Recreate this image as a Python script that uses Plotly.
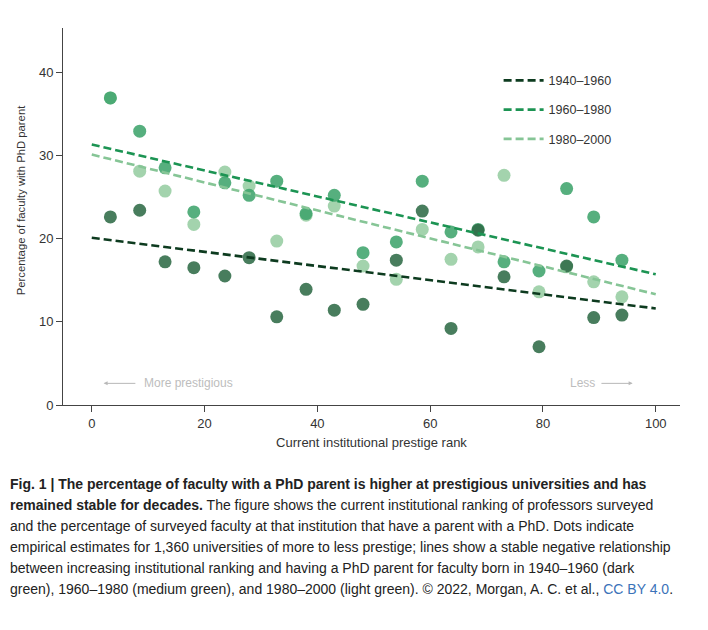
import plotly.graph_objects as go

# binned prestige ranks (x) and share of faculty with a PhD parent (%)
rank = [3.3, 8.5, 13.0, 18.1, 23.6, 27.9, 32.8, 38.0, 43.0, 48.1,
        54.0, 58.6, 63.7, 68.5, 73.1, 79.3, 84.2, 89.0, 94.0]
pct_1940 = [22.6, 23.4, 17.2, 16.5, 15.5, 17.7, 10.6, 13.9, 11.4, 12.1,
            17.4, 23.3, 9.2, 21.0, 15.4, 7.0, 16.7, 10.5, 10.8]
pct_1960 = [36.9, 32.9, 28.5, 23.2, 26.7, 25.2, 26.9, 23.0, 25.2, 18.3,
            19.6, 26.9, 20.8, 21.1, 17.2, 16.1, 26.0, 22.6, 17.4]
pct_2000 = [36.9, 28.1, 25.7, 21.7, 28.0, 26.3, 19.7, 22.8, 23.9, 16.7,
            15.1, 21.1, 17.5, 19.0, 27.6, 13.6, 16.6, 14.8, 13.0]

# fitted trend lines: value at rank 0 and at rank 100
fit_x = [0, 100]
fit_1940 = [20.1, 11.6]
fit_1960 = [31.3, 15.7]
fit_2000 = [30.1, 13.3]

cohorts = ["1940–1960", "1960–1980", "1980–2000"]
dot_colors = ["#2f6b47", "#3fa46c", "#96cda2"]
line_colors = ["#0d3b1f", "#1c9453", "#86c596"]

caption_lines = [
    "<b>Fig. 1 | The percentage of faculty with a PhD parent is higher at prestigious universities and has</b>",
    "<b>remained stable for decades.</b> The figure shows the current institutional ranking of professors surveyed",
    "and the percentage of surveyed faculty at that institution that have a parent with a PhD. Dots indicate",
    "empirical estimates for 1,360 universities of more to less prestige; lines show a stable negative relationship",
    "between increasing institutional ranking and having a PhD parent for faculty born in 1940–1960 (dark",
    "green), 1960–1980 (medium green), and 1980–2000 (light green). © 2022, Morgan, A. C. et al., "
    "<span style='color:#3b73b9'>CC BY 4.0</span>.",
]

fig = go.Figure()

# dots first (light on the bottom so overlaps look like the original)
for vals, col in zip([pct_2000, pct_1960, pct_1940], dot_colors[::-1]):
    fig.add_trace(go.Scatter(
        x=rank, y=vals, mode="markers",
        marker=dict(size=13, color=col, opacity=0.88, line=dict(width=0)),
        showlegend=False, hoverinfo="skip",
    ))

for name, vals, col in zip(cohorts, [fit_1940, fit_1960, fit_2000], line_colors):
    fig.add_trace(go.Scatter(
        x=fit_x, y=vals, mode="lines", name=name, legendgroup=name,
        line=dict(color=col, width=2.6, dash="8px,4px"),
    ))

fig.add_annotation(
    x=2.1, y=2.6, ax=8.0, ay=2.6, xref="x", yref="y", axref="x", ayref="y",
    text="", showarrow=True, arrowhead=2, arrowsize=0.8, arrowwidth=1,
    arrowcolor="#b8b8b8",
)
fig.add_annotation(
    x=8.9, y=2.6, xref="x", yref="y", text="More prestigious",
    showarrow=False, xanchor="left", font=dict(size=12, color="#bdbdbd"),
)
fig.add_annotation(
    x=95.9, y=2.6, ax=90.1, ay=2.6, xref="x", yref="y", axref="x", ayref="y",
    text="", showarrow=True, arrowhead=2, arrowsize=0.8, arrowwidth=1,
    arrowcolor="#b8b8b8",
)
fig.add_annotation(
    x=89.5, y=2.6, xref="x", yref="y", text="Less",
    showarrow=False, xanchor="right", font=dict(size=12, color="#bdbdbd"),
)
# y axis title, sitting a little above the axis centre as in the original
fig.add_annotation(
    x=-0.068, y=24.6, xref="paper", yref="y", text="Percentage of faculty with PhD parent",
    textangle=-90, showarrow=False, xanchor="center", yanchor="middle",
    font=dict(size=11.3, color="#333333"),
)
# caption under the chart, one annotation per line to get the wider leading
for i, line in enumerate(caption_lines):
    fig.add_annotation(
        x=0, y=-0.21 - i * 21 / 377, xref="paper", yref="paper", text=line,
        showarrow=False, xanchor="left", yanchor="middle", align="left", xshift=-55,
        font=dict(family="Liberation Sans, Arial, sans-serif", size=14, color="#222222"),
    )

# page body adds 8px of margin, so the figure is 8px smaller than the window
fig.update_layout(
    width=700, height=622,
    margin=dict(l=55, r=28, t=20, b=225),
    plot_bgcolor="white", paper_bgcolor="white",
    font=dict(family="Liberation Sans, Arial, sans-serif", size=13, color="#333333"),
    legend=dict(x=0.706, y=0.9, xanchor="left", yanchor="top",
                bgcolor="rgba(0,0,0,0)", font=dict(size=12.5, color="#333333"),
                itemwidth=40, tracegroupgap=10),
    showlegend=True,
)
fig.update_xaxes(
    range=[-5.1, 104.3], tickvals=[0, 20, 40, 60, 80, 100],
    showgrid=False, zeroline=False, showline=True, linecolor="#444444",
    ticks="outside", ticklen=6, tickcolor="#444444",
    title=dict(text="Current institutional prestige rank", font=dict(size=13), standoff=8),
)
fig.update_yaxes(
    range=[0, 45.3], tickvals=[0, 10, 20, 30, 40],
    showgrid=False, zeroline=False, showline=True, linecolor="#444444",
    ticks="outside", ticklen=6, tickcolor="#444444",
)

fig.write_html("out.html")
